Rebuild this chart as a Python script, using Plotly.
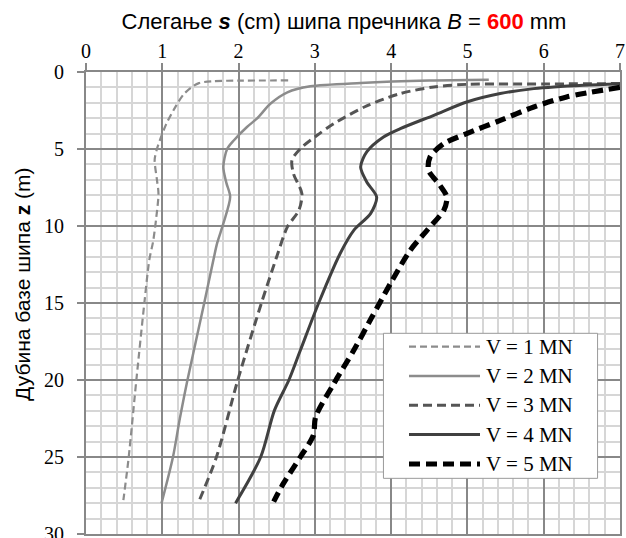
import plotly.graph_objects as go

# Settlement s (cm) vs depth z (m) for each load V
names = ["V = 1 MN", "V = 2 MN", "V = 3 MN", "V = 4 MN", "V = 5 MN"]

s_v1 = [2.65, 2.0, 1.65, 1.48, 1.38, 1.28, 1.18, 1.05, 0.93, 0.90, 0.93, 0.95, 0.92, 0.88, 0.83, 0.765, 0.66, 0.56, 0.49]
z_v1 = [0.55, 0.56, 0.6, 0.72, 1.0, 1.45, 2.2, 3.4, 5.0, 5.7, 7.0, 7.9, 9.5, 11.0, 12.2, 15.0, 20.0, 25.0, 27.8]

s_v2 = [5.28, 4.5, 3.6, 2.94, 2.64, 2.42, 2.24, 2.11, 1.94, 1.85, 1.80, 1.84, 1.89, 1.80, 1.72, 1.67, 1.55, 1.33, 1.23, 1.14, 0.99]
z_v2 = [0.5, 0.55, 0.71, 0.93, 1.32, 2.05, 3.03, 3.57, 4.43, 5.0, 6.17, 7.2, 8.1, 9.85, 11.1, 12.2, 15.0, 20.0, 22.5, 25.0, 28.0]

s_v3 = [7.0, 6.0, 5.0, 4.56, 4.12, 3.68, 3.25, 3.03, 2.81, 2.70, 2.72, 2.83, 2.79, 2.64, 2.50, 2.30, 1.99, 1.71, 1.47]
z_v3 = [0.75, 0.78, 0.8, 0.97, 1.4, 2.2, 3.35, 4.11, 4.98, 5.73, 6.6, 7.9, 8.98, 10.06, 12.0, 15.0, 20.0, 25.0, 28.0]

s_v4 = [7.0, 6.52, 5.87, 5.43, 4.99, 4.56, 4.12, 3.90, 3.68, 3.60, 3.68, 3.81, 3.73, 3.51, 3.33, 3.05, 2.81, 2.66, 2.47, 2.29, 1.96]
z_v4 = [0.78, 0.86, 1.08, 1.4, 1.95, 2.81, 3.68, 4.22, 5.19, 6.17, 7.14, 8.12, 9.2, 10.28, 11.8, 15.0, 18.07, 20.0, 21.97, 25.0, 28.0]

s_v5 = [7.0, 6.30, 5.87, 5.43, 4.99, 4.69, 4.51, 4.49, 4.64, 4.73, 4.69, 4.47, 4.25, 3.99, 3.75, 3.51, 3.25, 3.01, 2.98, 2.81, 2.59, 2.46]
z_v5 = [1.0, 1.62, 2.27, 3.14, 4.0, 4.65, 5.52, 6.38, 7.36, 8.12, 8.98, 10.28, 11.58, 13.74, 15.9, 18.07, 20.23, 22.4, 23.6, 25.0, 26.7, 27.9]

x_ticks = [0, 1, 2, 3, 4, 5, 6, 7]
y_ticks = [0, 5, 10, 15, 20, 25, 30]

colors = ["#8c8c8c", "#8c8c8c", "#555555", "#404040", "#000000"]
widths = [2.2, 2.5, 3, 3, 5.2]
dashes = ["7px,4px", "solid", "9px,5px", "solid", "11px,6px"]

series_s = [s_v1, s_v2, s_v3, s_v4, s_v5]
series_z = [z_v1, z_v2, z_v3, z_v4, z_v5]

serif = "Times New Roman, Liberation Serif, serif"
sans = "Arial, Liberation Sans, sans-serif"

fig = go.Figure()
for name, s, z, c, w, d in zip(names, series_s, series_z, colors, widths, dashes):
    fig.add_trace(go.Scatter(
        x=s, y=z, mode="lines", name=name,
        line=dict(color=c, width=w, dash=d, shape="spline", smoothing=0.8),
        showlegend=False, cliponaxis=True,
    ))

# custom legend (box + samples + labels) in paper coordinates
lx0, lx1, ly0, ly1 = 0.557, 0.958, 0.1205, 0.4344
fig.add_shape(type="rect", xref="paper", yref="paper", x0=lx0, x1=lx1, y0=ly0, y1=ly1,
              fillcolor="white", line=dict(color="#9a9a9a", width=1), layer="above")
row_y = [1 - (p - 72) / 462 for p in [346.7, 376.0, 405.3, 434.6, 464.0]]
for name, c, w, d, yy in zip(names, colors, widths, dashes, row_y):
    fig.add_shape(type="line", xref="paper", yref="paper",
                  x0=(409 - 86) / 534, x1=(480 - 86) / 534, y0=yy, y1=yy,
                  line=dict(color=c, width=w, dash=d), layer="above")
    fig.add_annotation(xref="paper", yref="paper", x=(484 - 86) / 534, y=yy,
                       text=name, showarrow=False, xanchor="left", yanchor="middle",
                       font=dict(family=serif, size=21, color="black"))

# y-axis title as rotated annotation
fig.add_annotation(xref="paper", yref="paper", x=(22 - 86) / 534, y=1 - (285 - 72) / 462,
                   text="Дубина базе шипа <b>z</b> (m)", textangle=-90, showarrow=False,
                   xanchor="center", yanchor="middle",
                   font=dict(family=sans, size=21, color="black"))

fig.update_layout(
    width=626, height=538,
    margin=dict(l=86, r=6, t=72, b=4, autoexpand=False),
    paper_bgcolor="white", plot_bgcolor="white",
    title=dict(
        text="Слегање <b><i>s</i></b> (cm) шипа пречника <i>B</i> = <b><span style='color:#ff0000'>600</span></b> mm",
        x=344 / 626, xanchor="center", y=1 - 21.5 / 538, yanchor="middle",
        font=dict(family=sans, size=22, color="black"),
    ),
)

fig.update_xaxes(
    side="top", range=[0, 7], tickvals=x_ticks, ticktext=[str(v) for v in x_ticks],
    ticks="outside", ticklen=7, tickwidth=2, tickcolor="#888888",
    tickfont=dict(family=serif, size=20, color="black"), ticklabelstandoff=-3,
    ticklabeloverflow="allow", automargin=False,
    showgrid=True, gridcolor="#888888", gridwidth=2,
    minor=dict(dtick=0.2, showgrid=True, gridcolor="#d6d6d6", gridwidth=1.6, ticks=""),
    showline=True, linecolor="#888888", linewidth=2, mirror=True, zeroline=False,
)
fig.update_yaxes(
    range=[30, 0], tickvals=y_ticks, ticktext=[str(v) for v in y_ticks],
    ticks="outside", ticklen=7, tickwidth=2, tickcolor="#888888",
    tickfont=dict(family=serif, size=20, color="black"), ticklabelstandoff=9,
    ticklabeloverflow="allow", automargin=False,
    showgrid=True, gridcolor="#888888", gridwidth=2,
    minor=dict(dtick=1, showgrid=True, gridcolor="#d6d6d6", gridwidth=1.6, ticks=""),
    showline=True, linecolor="#888888", linewidth=2, mirror=True, zeroline=False,
)

fig.write_html("out.html")
